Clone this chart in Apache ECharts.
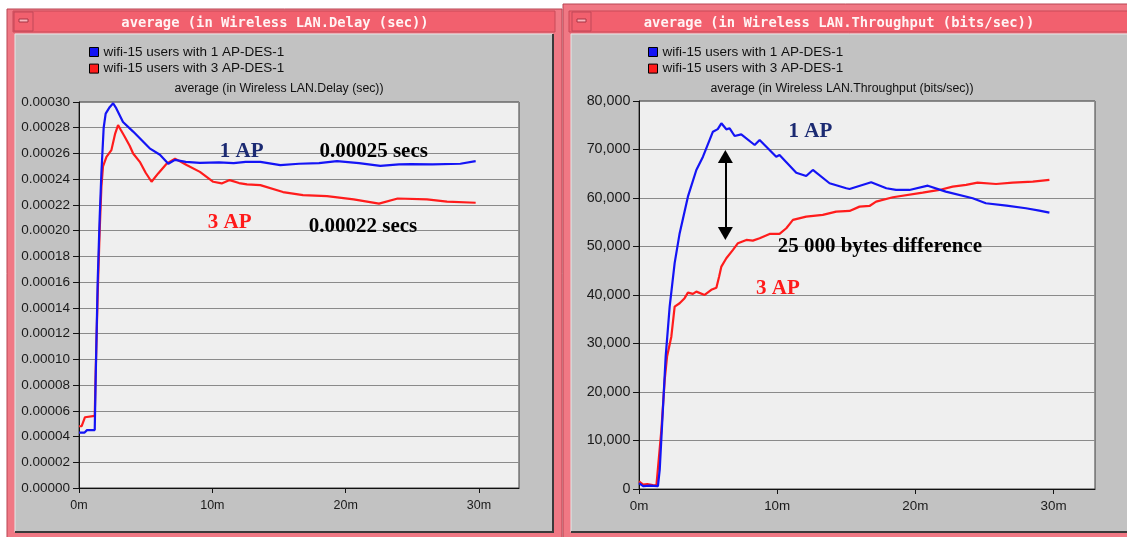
<!DOCTYPE html>
<html>
<head>
<meta charset="utf-8">
<script src="https://cdn.jsdelivr.net/npm/echarts@6/dist/echarts.min.js"></script>
<style>
html,body{margin:0;padding:0;background:#fff;}
#chart{width:1127px;height:537px;}
</style>
</head>
<body>
<div id="chart"></div>
<script>
// ---------- DATA ----------
const seriesNames = ['wifi-15 users with 1 AP-DES-1', 'wifi-15 users with 3 AP-DES-1'];
const windowTitles = ['average (in Wireless LAN.Delay (sec))', 'average (in Wireless LAN.Throughput (bits/sec))'];
const plotTitles = ['average (in Wireless LAN.Delay (sec))', 'average (in Wireless LAN.Throughput (bits/sec))'];
const xTickValues = [0, 10, 20, 30];

// Delay, 1 AP (time in minutes, seconds)
const delay1T = [0, 0.4, 0.6, 1.18, 1.25, 1.4, 1.55, 1.68, 1.85, 2.0, 2.3, 2.56, 2.8, 3.3, 4.06, 5.3, 6.07, 6.7, 7.2, 8.0, 9.07, 10.5, 11.6, 12.5, 13.6, 15.1, 16.5, 18.0, 19.35, 21.0, 22.6, 24.0, 24.9, 26.5, 28.6, 29.75];
const delay1V = [0.000043, 0.000043, 0.000045, 0.000045, 0.000085, 0.000160, 0.000210, 0.000245, 0.000280, 0.000291, 0.000296, 0.000299, 0.000295, 0.0002845, 0.000277, 0.000264, 0.000259, 0.000252, 0.000255, 0.0002535, 0.0002527, 0.000253, 0.0002525, 0.0002535, 0.0002535, 0.000251, 0.000252, 0.0002525, 0.000254, 0.0002525, 0.0002504, 0.0002515, 0.0002517, 0.0002515, 0.000252, 0.000254];

// Delay, 3 AP
const delay3T = [0, 0.2, 0.45, 0.6, 1.18, 1.25, 1.4, 1.55, 1.68, 1.8, 2.06, 2.43, 2.7, 2.93, 3.15, 3.43, 3.8, 4.06, 4.56, 5.0, 5.44, 5.94, 6.57, 7.2, 8.07, 9.07, 10.07, 10.7, 11.3, 12.0, 12.6, 13.6, 15.3, 16.8, 18.6, 20.6, 22.5, 23.9, 26.1, 27.6, 29.75];
const delay3V = [0.000048, 0.000048, 0.000055, 0.000056, 0.000056, 0.000090, 0.000150, 0.000200, 0.000234, 0.000250, 0.0002574, 0.0002626, 0.000275, 0.000282, 0.000278, 0.000273, 0.000266, 0.000260, 0.0002535, 0.000245, 0.000238, 0.0002445, 0.000252, 0.000256, 0.000251, 0.0002457, 0.000238, 0.0002367, 0.0002393, 0.000237, 0.000236, 0.0002354, 0.000230, 0.0002276, 0.0002268, 0.0002243, 0.000221, 0.000225, 0.0002243, 0.0002225, 0.0002217];

// Throughput, 1 AP (bits/sec)
const thr1T = [0, 0.3, 0.8, 1.37, 1.5, 1.93, 2.22, 2.58, 2.94, 3.54, 4.15, 4.63, 5.35, 5.7, 5.96, 6.32, 6.56, 6.92, 7.4, 8.37, 8.73, 9.93, 10.17, 11.38, 12.1, 12.58, 13.79, 15.0, 15.24, 16.8, 17.9, 18.6, 19.57, 20.9, 22.2, 24.15, 25.1, 26.6, 28.0, 28.97, 29.7];
const thr1V = [1200, 600, 700, 600, 4000, 27300, 37600, 46560, 52700, 60280, 65770, 68520, 73670, 74200, 75400, 74160, 74370, 72780, 73130, 70930, 71960, 68520, 68870, 65220, 64540, 65780, 63040, 62010, 61860, 63240, 62010, 61660, 61660, 62540, 61310, 59950, 58920, 58420, 57890, 57400, 56980];

// Throughput, 3 AP
const thr3T = [0, 0.3, 0.6, 1.0, 1.26, 1.62, 1.86, 2.03, 2.34, 2.58, 2.94, 3.3, 3.54, 3.9, 4.15, 4.75, 5.23, 5.6, 5.8, 5.96, 6.32, 6.8, 7.16, 7.77, 8.24, 8.73, 9.45, 10.17, 10.66, 11.14, 12.1, 13.3, 14.27, 15.24, 15.96, 16.68, 17.16, 18.37, 20.53, 21.74, 22.7, 23.67, 24.5, 25.84, 27.04, 28.5, 29.7];
const thr3V = [1570, 900, 1000, 800, 680, 12200, 22500, 27300, 31400, 37600, 38300, 39350, 40500, 40230, 40700, 40020, 41060, 41500, 43800, 45860, 47590, 49300, 50680, 51360, 51210, 51710, 52590, 52590, 53770, 55480, 56160, 56510, 57190, 57330, 58220, 58360, 59250, 60150, 61100, 61660, 62340, 62690, 63160, 62890, 63160, 63370, 63720];

// Annotations (data space)
const delayNotes = [
  { at: [12.2, 0.0002612], text: '1 AP', color: '#1b2a72' },
  { at: [22.1, 0.0002612], text: '0.00025 secs', color: '#000000' },
  { at: [11.3, 0.0002061], text: '3 AP', color: '#ff1a1a' },
  { at: [21.3, 0.000203], text: '0.00022 secs', color: '#000000' }
];
const thrNotes = [
  { at: [12.4, 73680], text: '1 AP', color: '#1b2a72' },
  { at: [10.05, 41400], text: '3 AP', color: '#ff1a1a' },
  { at: [17.43, 49980], text: '25 000 bytes difference', color: '#000000' }
];
const thrArrow = { t: 6.25, from: 68560, to: 52700 };

// ---------- CHART ----------
const pair = (ts, vs) => ts.map((t, i) => [t, vs[i]]);
const BLUE = '#1414f5', RED = '#ff1c1c';
const PINK = '#f2606e', FRAME = '#f07884', PANEL = '#c2c2c2';

function notePoints(notes) {
  return {
    silent: true,
    symbol: 'rect',
    symbolSize: 1,
    itemStyle: { color: 'rgba(0,0,0,0)' },
    label: { show: true, position: 'inside', fontFamily: 'Liberation Serif', fontWeight: 'bold', fontSize: 21 },
    data: notes.map(n => ({ coord: n.at, label: { formatter: n.text, color: n.color } }))
  };
}

function xAxisOpt(gi, fs) {
  return {
    type: 'value', gridIndex: gi, min: 0, max: 33, interval: 10,
    axisLine: { show: true, lineStyle: { color: '#111', width: 1 } },
    axisTick: { show: true, inside: false, length: 5, customValues: xTickValues, lineStyle: { color: '#111' } },
    axisLabel: { customValues: xTickValues, formatter: v => v + 'm', fontSize: fs, color: '#1a1a1a', margin: 11, fontFamily: 'Liberation Sans' },
    splitLine: { show: false }
  };
}
function yAxisOpt(gi, max, interval, fmt, fs, margin) {
  return {
    type: 'value', gridIndex: gi, min: 0, max: max, interval: interval,
    axisLine: { show: true, lineStyle: { color: '#111', width: 1 } },
    axisTick: { show: true, inside: false, length: 6, lineStyle: { color: '#111' } },
    axisLabel: { formatter: fmt, fontSize: fs, color: '#1a1a1a', margin: margin, fontFamily: 'Liberation Sans' },
    splitLine: { show: true, lineStyle: { color: '#8a8a8a', width: 1 } }
  };
}
function legendOpt(left) {
  return {
    orient: 'vertical', left: left, top: 45, padding: 0,
    icon: 'rect', itemWidth: 9, itemHeight: 9, itemGap: 2.6,
    itemStyle: { borderColor: '#000', borderWidth: 1 },
    textStyle: { fontSize: 13.5, color: '#111', fontFamily: 'Liberation Sans', lineHeight: 14 },
    data: seriesNames, selectedMode: false
  };
}
function windowGraphics(x, y, w, h, barX, barW, btnX, titleCX, titleText, panelX, panelW, subCX, subText) {
  return [
    { type: 'rect', z: -20, shape: { x: x, y: y, width: w, height: h }, style: { fill: FRAME, stroke: '#b84452', lineWidth: 1 } },
    { type: 'rect', z: -19, shape: { x: barX, y: 11, width: barW, height: 21 }, style: { fill: PINK, stroke: '#c84a58', lineWidth: 1 } },
    { type: 'rect', z: -18, shape: { x: btnX, y: 12, width: 19, height: 19 }, style: { fill: PINK, stroke: '#c04858', lineWidth: 1 } },
    { type: 'rect', z: -17, shape: { x: btnX + 5, y: 19, width: 9, height: 3 }, style: { fill: '#f8b4bc', stroke: '#a83444', lineWidth: 1 } },
    { type: 'text', z: -16, x: titleCX, y: 23, style: { text: titleText, fill: '#fff4f4', font: 'bold 13.8px "DejaVu Sans Mono"', align: 'center', verticalAlign: 'middle' } },
    { type: 'rect', z: -15, shape: { x: panelX, y: 34, width: panelW, height: 498 }, style: { fill: PANEL } },
    { type: 'polyline', z: -14, shape: { points: [[panelX, 532], [panelX, 34], [panelX + panelW, 34]] }, style: { stroke: '#e6e6e6', lineWidth: 1, fill: null } },
    { type: 'polyline', z: -14, shape: { points: [[panelX + panelW, 34], [panelX + panelW, 532], [panelX, 532]] }, style: { stroke: '#3a3a3a', lineWidth: 2, fill: null } },
    { type: 'text', z: 5, x: subCX, y: 89, style: { text: subText, fill: '#111', font: '12.3px "Liberation Sans"', align: 'center', verticalAlign: 'middle' } }
  ];
}

const chart = echarts.init(document.getElementById('chart'), null, { renderer: 'canvas' });
const option = {
  animation: false,
  backgroundColor: '#ffffff',
  graphic: [
    ...windowGraphics(7, 9, 555, 530, 13, 542, 14, 275, windowTitles[0], 15, 538, 279, plotTitles[0]),
    ...windowGraphics(563, 4, 570, 535, 569, 560, 572, 839, windowTitles[1], 571, 560, 842, plotTitles[1])
  ],
  legend: [legendOpt(89), legendOpt(648)],
  grid: [
    { left: 79, top: 102, width: 440, height: 386, show: true, backgroundColor: '#efefef', borderColor: '#3c3c3c', borderWidth: 1, containLabel: false, outerBoundsMode: 'none' },
    { left: 639, top: 101, width: 456, height: 388, show: true, backgroundColor: '#efefef', borderColor: '#3c3c3c', borderWidth: 1, containLabel: false, outerBoundsMode: 'none' }
  ],
  xAxis: [xAxisOpt(0, 12.5), xAxisOpt(1, 13.4)],
  yAxis: [
    yAxisOpt(0, 0.0003, 0.00002, v => Number(v).toFixed(5), 13.5, 9),
    yAxisOpt(1, 80000, 10000, v => Math.round(v).toLocaleString('en-US'), 14.3, 8.6)
  ],
  series: [
    { name: seriesNames[0], type: 'line', xAxisIndex: 0, yAxisIndex: 0, showSymbol: false, z: 3, lineStyle: { color: BLUE, width: 2.2 }, itemStyle: { color: BLUE }, data: pair(delay1T, delay1V), markPoint: notePoints(delayNotes.slice(0, 2)) },
    { name: seriesNames[1], type: 'line', xAxisIndex: 0, yAxisIndex: 0, showSymbol: false, z: 2, lineStyle: { color: RED, width: 2.2 }, itemStyle: { color: RED }, data: pair(delay3T, delay3V), markPoint: notePoints(delayNotes.slice(2)) },
    { name: seriesNames[0], type: 'line', xAxisIndex: 1, yAxisIndex: 1, showSymbol: false, z: 3, lineStyle: { color: BLUE, width: 2.2 }, itemStyle: { color: BLUE }, data: pair(thr1T, thr1V), markPoint: notePoints(thrNotes.slice(0, 1)),
      markLine: { silent: true, symbol: ['triangle', 'triangle'], symbolSize: [15, 13], label: { show: false }, lineStyle: { color: '#000', width: 2, type: 'solid' }, emphasis: { disabled: true },
        data: [[{ coord: [thrArrow.t, thrArrow.from] }, { coord: [thrArrow.t, thrArrow.to] }]] } },
    { name: seriesNames[1], type: 'line', xAxisIndex: 1, yAxisIndex: 1, showSymbol: false, z: 2, lineStyle: { color: RED, width: 2.2 }, itemStyle: { color: RED }, data: pair(thr3T, thr3V), markPoint: notePoints(thrNotes.slice(1)) }
  ]
};
chart.setOption(option);
</script>
</body>
</html>
